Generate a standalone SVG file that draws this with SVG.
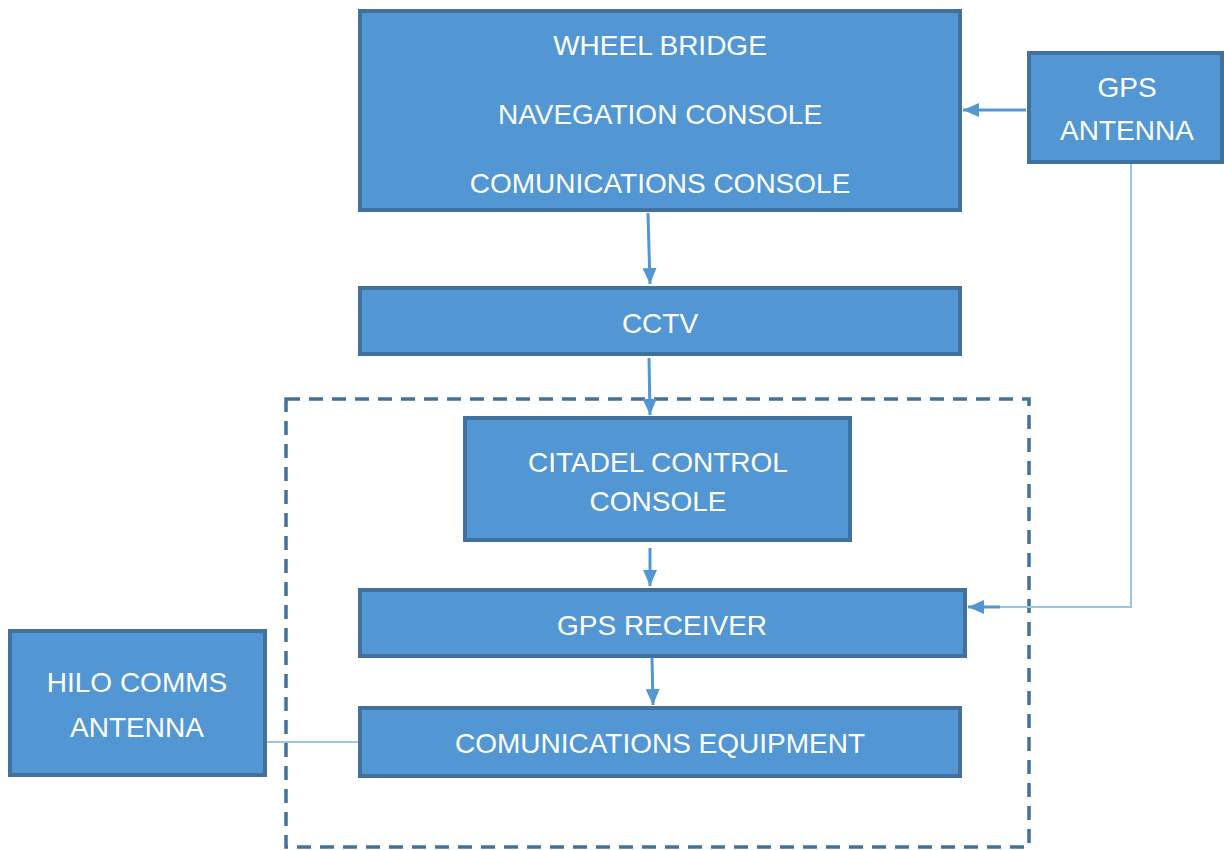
<svg xmlns="http://www.w3.org/2000/svg" width="1224" height="850" viewBox="0 0 1224 850">
<defs>
<style>
.box{fill:#5297d4;stroke:#41719c;stroke-width:4}
.t{font-family:"Liberation Sans",Arial,sans-serif;font-size:28px;fill:#fff;text-anchor:middle}
.c{stroke:#5297d4;stroke-width:3;fill:none}
.thin{stroke:#9dc3e6;stroke-width:2;fill:none}
.dash{stroke:#41719c;stroke-width:3.5;fill:none;stroke-dasharray:14 9}
</style>
<marker id="a" viewBox="0 0 16 14" refX="16" refY="7" markerWidth="16" markerHeight="14" markerUnits="userSpaceOnUse" orient="auto">
<path d="M0,0 L16,7 L0,14 z" fill="#5297d4"/>
</marker>
</defs>
<rect width="1224" height="850" fill="#fff"/>
<g id="boundary">
<rect class="dash" x="286" y="399" width="743" height="448"/>
</g>
<g id="connectors">
<line class="c" x1="1026" y1="110" x2="963" y2="110" marker-end="url(#a)"/>
<line class="c" x1="648" y1="213" x2="650" y2="284" marker-end="url(#a)"/>
<line class="c" x1="649" y1="358" x2="650" y2="415" marker-end="url(#a)"/>
<line class="c" x1="650" y1="548" x2="650" y2="586" marker-end="url(#a)"/>
<line class="c" x1="652" y1="658" x2="653" y2="705" marker-end="url(#a)"/>
<polyline class="thin" points="1131,164 1131,607 1000,607"/>
<line class="c" x1="1000" y1="607" x2="968" y2="607" marker-end="url(#a)"/>
<line class="thin" x1="267" y1="742" x2="359" y2="742"/>
</g>
<g id="wheel-bridge">
<rect class="box" x="360" y="11" width="600" height="199"/>
<text class="t" x="660" y="55">WHEEL BRIDGE</text>
<text class="t" x="660" y="124">NAVEGATION CONSOLE</text>
<text class="t" x="660" y="193">COMUNICATIONS CONSOLE</text>
</g>
<g id="gps-antenna">
<rect class="box" x="1029" y="53" width="193" height="109"/>
<text class="t" x="1127" y="97">GPS</text>
<text class="t" x="1127" y="140">ANTENNA</text>
</g>
<g id="cctv">
<rect class="box" x="360" y="288" width="600" height="66"/>
<text class="t" x="660" y="333">CCTV</text>
</g>
<g id="citadel">
<rect class="box" x="465" y="418" width="385" height="122"/>
<text class="t" x="658" y="472">CITADEL CONTROL</text>
<text class="t" x="658" y="511">CONSOLE</text>
</g>
<g id="gps-receiver">
<rect class="box" x="360" y="590" width="605" height="66"/>
<text class="t" x="662" y="635">GPS RECEIVER</text>
</g>
<g id="comms-equipment">
<rect class="box" x="360" y="708" width="600" height="68"/>
<text class="t" x="660" y="753">COMUNICATIONS EQUIPMENT</text>
</g>
<g id="hilo-antenna">
<rect class="box" x="10" y="631" width="255" height="144"/>
<text class="t" x="137" y="692">HILO COMMS</text>
<text class="t" x="137" y="737">ANTENNA</text>
</g>
</svg>
